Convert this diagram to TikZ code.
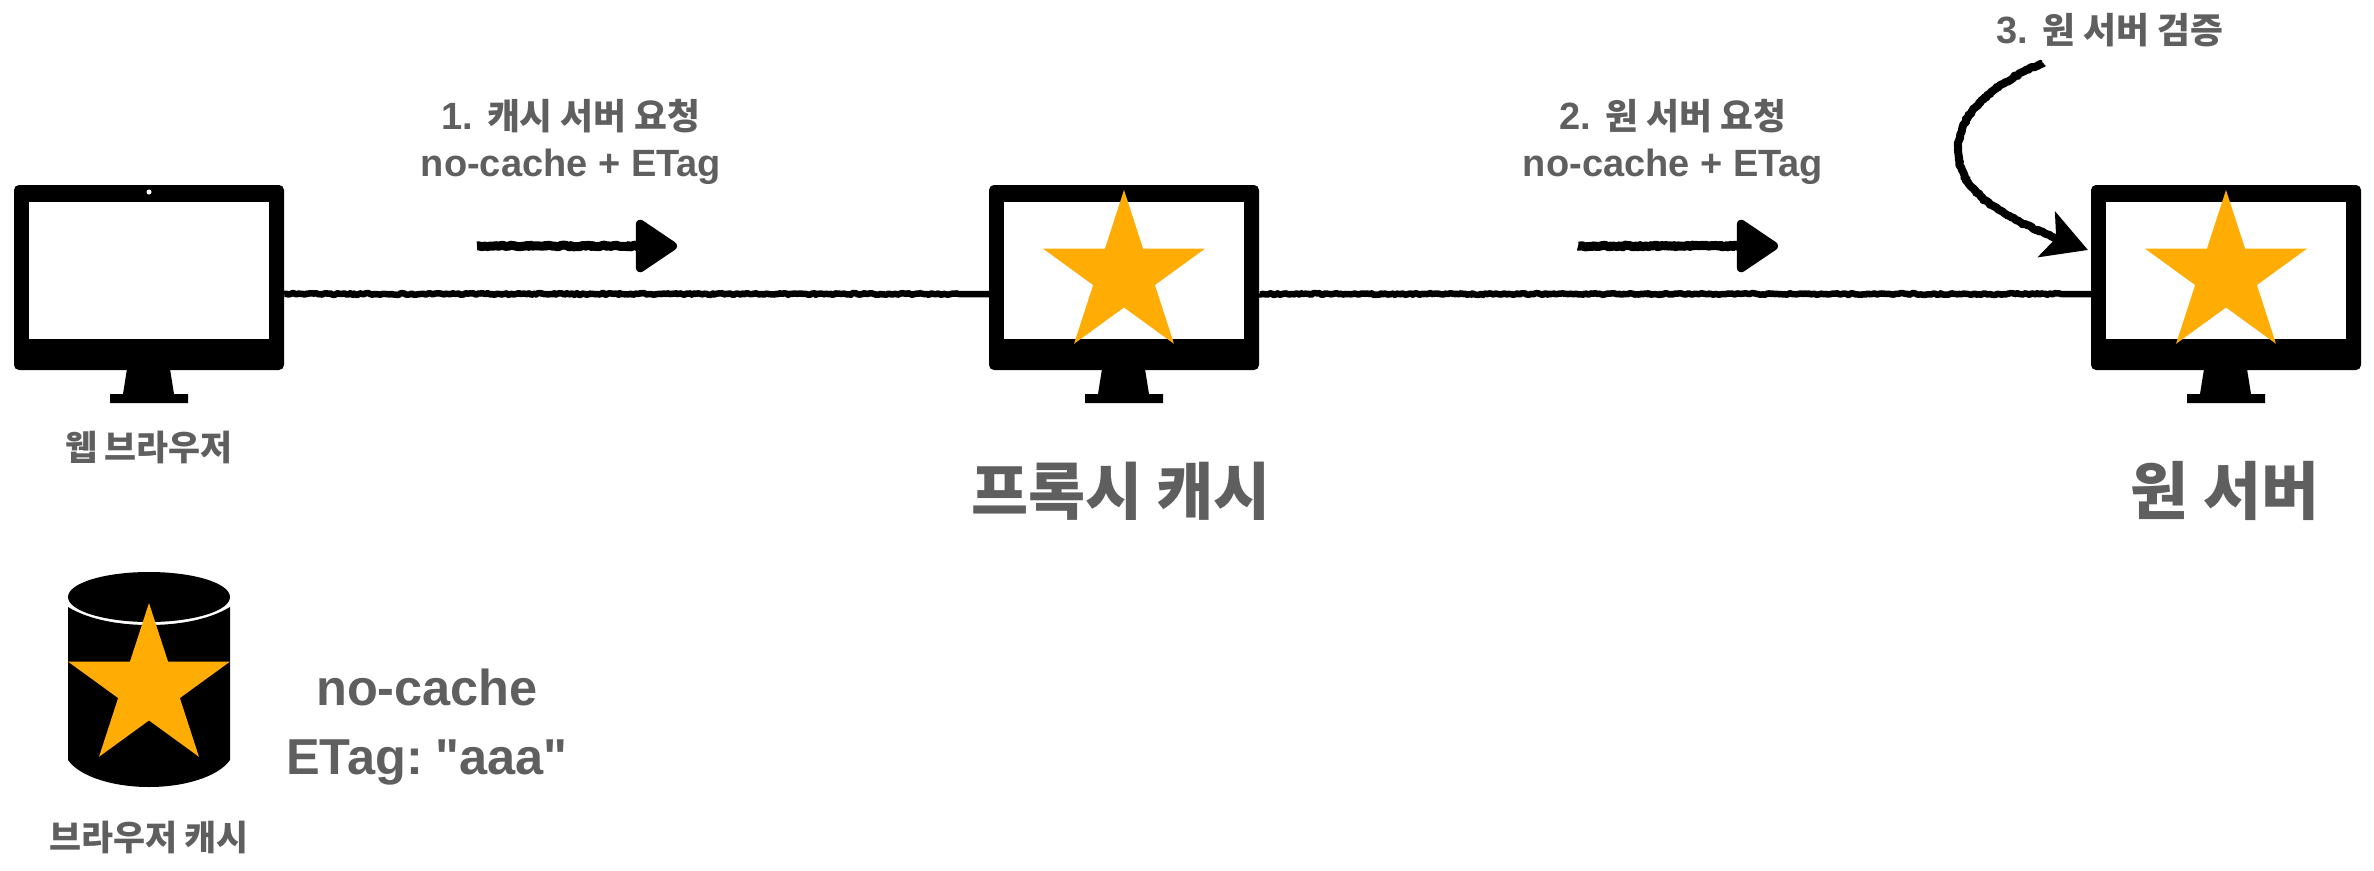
\documentclass[tikz,border=0pt]{standalone}
\usepackage{fontspec}
\setmainfont{Liberation Sans}
\newfontfamily\plainfont{Liberation Sans}
\newfontfamily\kofont[Scale=0.94]{Noto Sans CJK KR}
\usetikzlibrary{arrows.meta,decorations.pathmorphing,shapes.geometric}
\definecolor{labelgray}{HTML}{5F5F5F}
\definecolor{stargold}{HTML}{FFAD05}
\newcommand{\ko}[1]{{\kofont #1}}
\tikzset{
  monitor/.style={fill=black, rounded corners=5pt, minimum width=270pt, minimum height=185pt, inner sep=0pt},
  goldstar/.style={star, star points=5, star point ratio=2.618, fill=stargold, minimum size=170pt, inner sep=0pt},
  rough/.style={decorate, line join=round, decoration={random steps, segment length=2pt, amplitude=0.9pt, post length=30pt}},
  wire/.style={rough, line width=6.5pt},
  bigarrow/.style={rough, line width=9pt, -{Triangle[length=45pt, width=58pt, round]}},
  txt/.style 2 args={text=labelgray, font=\plainfont\bfseries\fontsize{#1}{#2}\selectfont, align=center, inner sep=0pt},
}
\begin{document}
\begin{tikzpicture}[x=1pt, y=-1pt]
\useasboundingbox (0,0) rectangle (2374,870);
\pgfmathsetseed{7}

\foreach \name/\x in {browser/149,proxy/1124,origin/2226} {
  \node[monitor] (\name) at (\x,277.5) {};
  \fill[white] (\x-120,202) rectangle (\x+120,339);
  \fill (\x-22,369) -- (\x+21,369) -- (\x+25,394) -- (\x+39,394) -- (\x+39,403)
    -- (\x-39,403) -- (\x-39,394) -- (\x-26,394) -- cycle;
}
\fill[white] (149,192) circle (2.5);

\foreach \name in {proxy,origin}
  \node[goldstar] (star-\name) at ([yshift=2.5pt]\name.center) {};

\fill (68,607) -- (68,760) .. controls (80,777) and (114,787) .. (149,787)
  .. controls (184,787) and (218,777) .. (230,760) -- (230,607)
  .. controls (212,618) and (184,625) .. (149,625)
  .. controls (114,625) and (86,618) .. (68,607) -- cycle;
\fill (149,597) ellipse (81 and 25);
\node[goldstar] (star-cache) at (149,688) {};

\draw[wire] ([yshift=-16.5pt]browser.east) -- ([yshift=-16.5pt]proxy.west);
\draw[wire] ([yshift=-16.5pt]proxy.east) -- ([yshift=-16.5pt]origin.west);

\coordinate (a1) at (477,246);
\coordinate (b1) at (677,246);
\coordinate (a2) at (1578,246);
\coordinate (b2) at (1778,246);
\coordinate (a3) at (2043,63);
\coordinate (b3) at (2088,250);
\draw[bigarrow] (a1) -- (b1);
\draw[bigarrow] (a2) -- (b2);
\draw[rough, line width=8pt, -{Stealth[length=44pt, width=48pt, inset=10pt]}] (a3)
  .. controls (1990,85) and (1958,115) .. (1958,150)
  .. controls (1958,200) and (2020,225) .. (b3);

\node[txt={38}{47}] (step1) at (571,142) {1. \ko{캐시 서버 요청}\\no-cache + ETag};
\node[txt={38}{47}] (step2) at (1673,142) {2. \ko{원 서버 요청}\\no-cache + ETag};
\node[txt={38}{47}] (step3) at (2110,30) {3. \ko{원 서버 검증}};

\node[txt={37}{44}] (browser-label) at (149,447) {\ko{웹 브라우저}};
\node[txt={66}{70}] (proxy-label) at (1121,491) {\ko{프록시 캐시}};
\node[txt={67}{70}] (origin-label) at (2225,491) {\ko{원 서버}};
\node[txt={37}{40}] (cache-label) at (149,837) {\ko{브라우저 캐시}};
\node[txt={50.5}{69}] (cache-info) at (427,727) {no-cache\\ETag:\hspace{-6pt} "aaa"};
\end{tikzpicture}
\end{document}
